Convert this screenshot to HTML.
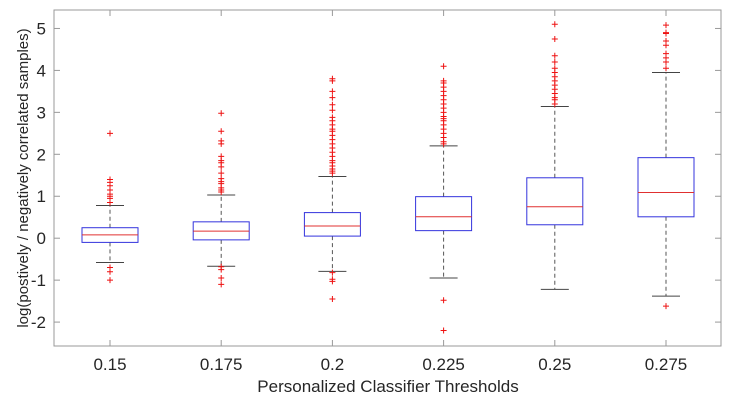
<!DOCTYPE html>
<html><head><meta charset="utf-8"><style>
html,body{margin:0;padding:0;background:#fff;width:735px;height:402px;overflow:hidden}
text{font-family:"Liberation Sans",sans-serif;fill:#262626}
</style></head><body>
<svg id="chart" width="735" height="402" viewBox="0 0 735 402" xmlns="http://www.w3.org/2000/svg"></svg>
<script>
const categories=["0.15","0.175","0.2","0.225","0.25","0.275"];
const q1=[-0.1,-0.04,0.05,0.18,0.32,0.51];
const q3=[0.25,0.39,0.61,0.99,1.44,1.92];
const medians=[0.08,0.17,0.29,0.51,0.75,1.09];
const whiskerHigh=[0.78,1.03,1.47,2.2,3.14,3.95];
const whiskerLow=[-0.58,-0.67,-0.79,-0.95,-1.22,-1.38];
const outliers=[
[2.5,1.4,1.33,1.25,1.15,1.05,1.0,0.95,0.85,-0.7,-0.8,-1.0],
[2.98,2.55,2.32,2.25,1.95,1.85,1.8,1.7,1.55,1.42,1.35,1.3,1.2,1.15,1.1,-0.68,-0.75,-0.95,-1.1],
[3.8,3.75,3.5,3.35,3.18,3.05,2.88,2.8,2.7,2.6,2.55,2.45,2.35,2.25,2.15,2.05,1.95,1.85,1.8,1.72,1.65,1.6,1.55,-0.82,-0.98,-1.03,-1.45],
[4.1,3.75,3.7,3.6,3.5,3.4,3.3,3.2,3.1,3.0,2.9,2.85,2.8,2.7,2.6,2.5,2.4,2.3,2.25,-1.48,-2.2],
[5.1,4.75,4.35,4.2,4.05,3.95,3.85,3.75,3.65,3.55,3.45,3.35,3.3,3.2],
[5.08,4.9,4.88,4.7,4.6,4.4,4.3,4.2,4.05,-1.62]
];
const yTicks=[-2,-1,0,1,2,3,4,5];
const L=54,R=721,T=10,B=346;
const yMin=-2.57,yMax=5.44;
function ys(v){return B-(v-yMin)/(yMax-yMin)*(B-T);}
function xs(i){return 110+i*111.2;}
const svg=document.getElementById('chart');
const NS="http://www.w3.org/2000/svg";
function mk(tag,attrs,parent){const e=document.createElementNS(NS,tag);for(const k in attrs)e.setAttribute(k,attrs[k]);(parent||svg).appendChild(e);return e;}
const frame=mk('rect',{x:L,y:T,width:R-L,height:B-T,fill:'none',stroke:'#999','stroke-width':1});


yTicks.forEach(v=>{
  const y=ys(v);
  mk('line',{x1:L,x2:L+6,y1:y,y2:y,stroke:'#999'});
  mk('line',{x1:R-6,x2:R,y1:y,y2:y,stroke:'#999'});
  const t=mk('text',{x:L-8,y:y+6,'text-anchor':'end','font-size':17});
  t.textContent=String(v);
  
  
});
categories.forEach((c,i)=>{
  const x=xs(i);
  mk('line',{x1:x,x2:x,y1:B,y2:B-6,stroke:'#999'});
  mk('line',{x1:x,x2:x,y1:T,y2:T+6,stroke:'#999'});
  const t=mk('text',{x:x,y:370,'text-anchor':'middle','font-size':17});
  t.textContent=c;
  
  
  const g=mk('g',{});
  
  
  const hw=28,cw=14;
  mk('line',{x1:x,x2:x,y1:ys(q3[i]),y2:ys(whiskerHigh[i]),stroke:'#555','stroke-dasharray':'4,3'},g);
  mk('line',{x1:x,x2:x,y1:ys(q1[i]),y2:ys(whiskerLow[i]),stroke:'#555','stroke-dasharray':'4,3'},g);
  mk('line',{x1:x-cw,x2:x+cw,y1:ys(whiskerHigh[i]),y2:ys(whiskerHigh[i]),stroke:'#444'},g);
  mk('line',{x1:x-cw,x2:x+cw,y1:ys(whiskerLow[i]),y2:ys(whiskerLow[i]),stroke:'#444'},g);
  mk('rect',{x:x-hw,y:ys(q3[i]),width:2*hw,height:ys(q1[i])-ys(q3[i]),fill:'none',stroke:'#3333dd','stroke-width':1},g);
  mk('line',{x1:x-hw,x2:x+hw,y1:ys(medians[i]),y2:ys(medians[i]),stroke:'#e03030'},g);
  outliers[i].forEach(v=>{
    const y=ys(v);
    const p=mk('path',{d:`M${x-3} ${y}H${x+3}M${x} ${y-3}V${y+3}`,stroke:'#ee1111','stroke-width':1},g);
    
    
  });
});
const xl=mk('text',{x:388,y:392,'text-anchor':'middle','font-size':17});
xl.textContent='Personalized Classifier Thresholds';


const yl=mk('text',{x:0,y:0,'text-anchor':'middle','font-size':15,transform:'translate(28,178) rotate(-90)'});
yl.textContent='log(postively / negatively correlated samples)';


</script>
</body></html>
